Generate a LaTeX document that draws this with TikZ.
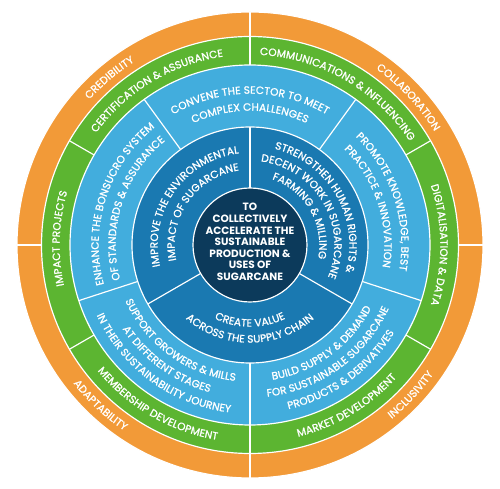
\documentclass[tikz,border=0pt]{standalone}
\usepackage{fontspec}
\setmainfont{Poppins}
\usepackage{tikz}
\definecolor{peel}{HTML}{F29A38}
\definecolor{leaf}{HTML}{5CB531}
\definecolor{sky}{HTML}{42ADDD}
\definecolor{sea}{HTML}{1A79B1}
\definecolor{deep}{HTML}{0C3A5B}
\font\rf="Poppins:embolden=1.2" at 9pt

\makeatletter
\newdimen\bt@pos
\newdimen\bt@track \bt@track=0.1pt
\newif\ifbt@draw
% \bendtext{baseline radius}{centre angle}{1 = clockwise, -1 = counterclockwise}{text}
\newcommand\bendtext[4]{%
  \def\bt@r{#1}\def\bt@c{#2}\def\bt@d{#3}%
  \bt@drawfalse\bt@pos=\z@
  \bt@words#4 \@nil
  \bt@pos=-0.5\bt@pos
  \bt@drawtrue
  \bt@words#4 \@nil}
\def\bt@words#1 #2\@nil{%
  \bt@word{#1}%
  \ifx\relax#2\relax\else
    \advance\bt@pos\fontdimen2\rf
    \bt@words#2\@nil
  \fi}
\def\bt@word#1{%
  \@tfor\bt@ch:=#1\do{%
    \setbox\tw@\hbox{\rf\bt@ch}%
    \ifbt@draw
      \advance\bt@pos.5\wd\tw@
      \pgfmathsetmacro\bt@a{\bt@c-(\bt@d)*deg(\strip@pt\bt@pos/(\bt@r*28.45274))}%
      \pgfmathsetmacro\bt@rot{\bt@a-(\bt@d)*90}%
      \node[letter,rotate=\bt@rot] at (\bt@a:\bt@r) {\bt@ch};
      \advance\bt@pos.5\wd\tw@
    \else
      \advance\bt@pos\wd\tw@
    \fi
    \advance\bt@pos\bt@track}}
\makeatother

\begin{document}
\begin{tikzpicture}[
  ring/.style={draw=white,line width=1pt},
  sep/.style={draw=white,line width=1pt},
  letter/.style={text=white,inner sep=0pt,anchor=base,font=\rf},
  goal/.style={align=center,text=white,font=\fontsize{9}{9.9}\selectfont\bfseries}
]
\useasboundingbox (-7.5,-7.32) rectangle (7.5,7.35);
\path[ring,fill=peel] (0,0) circle (6.99);
\path[ring,fill=leaf] (0,0) circle (6.255);
\path[ring,fill=sky] (0,0) circle (5.40);
\path[ring,fill=sea] (0,0) circle (3.54);
\path[ring,fill=deep] (0,0) circle (1.71);
\foreach \a in {0,90,180,270} \draw[sep] (\a:6.255) -- (\a:6.99);
\foreach \a in {30,90,...,330} \draw[sep] (\a:5.40) -- (\a:6.255);
\foreach \a in {54,126,198,270,342} \draw[sep] (\a:3.54) -- (\a:5.40);
\foreach \a in {90,210,330} \draw[sep] (\a:1.71) -- (\a:3.54);

\node[goal] (aim) at (0,0.09) {TO\\COLLECTIVELY\\ACCELERATE THE\\SUSTAINABLE\\PRODUCTION \&\\USES OF\\SUGARCANE};

\bendtext{6.50}{43}{1}{COLLABORATION}
\bendtext{6.50}{130}{1}{CREDIBILITY}
\bendtext{6.73}{227}{-1}{ADAPTABILITY}
\bendtext{6.73}{317}{-1}{INCLUSIVITY}

\bendtext{5.71}{60}{1}{COMMUNICATIONS \& INFLUENCING}
\bendtext{5.71}{121}{1}{CERTIFICATION \& ASSURANCE}
\bendtext{5.71}{178}{1}{IMPACT PROJECTS}
\bendtext{5.71}{0}{1}{DIGITALISATION \& DATA}
\bendtext{5.93}{240}{-1}{MEMBERSHIP DEVELOPMENT}
\bendtext{5.93}{301}{-1}{MARKET DEVELOPMENT}

\bendtext{4.54}{90}{1}{CONVENE THE SECTOR TO MEET}
\bendtext{4.03}{90}{1}{COMPLEX CHALLENGES}
\bendtext{4.54}{18}{1}{PROMOTE KNOWLEDGE, BEST}
\bendtext{4.03}{18}{1}{PRACTICE \& INNOVATION}
\bendtext{4.54}{162}{1}{ENHANCE THE BONSUCRO SYSTEM}
\bendtext{4.03}{162}{1}{OF STANDARDS \& ASSURANCE}
\bendtext{4.10}{306}{-1}{BUILD SUPPLY \& DEMAND}
\bendtext{4.58}{306}{-1}{FOR SUSTAINABLE SUGARCANE}
\bendtext{5.06}{306}{-1}{PRODUCTS \& DERIVATIVES}
\bendtext{4.10}{234}{-1}{SUPPORT GROWERS \& MILLS}
\bendtext{4.58}{234}{-1}{AT DIFFERENT STAGES}
\bendtext{5.06}{234}{-1}{IN THEIR SUSTAINABILITY JOURNEY}

\bendtext{2.77}{145}{1}{IMPROVE THE ENVIRONMENTAL}
\bendtext{2.26}{145}{1}{IMPACT OF SUGARCANE}
\bendtext{2.98}{30}{1}{STRENGTHEN HUMAN RIGHTS \&}
\bendtext{2.53}{30}{1}{DECENT WORK IN SUGARCANE}
\bendtext{2.08}{30}{1}{FARMING \& MILLING}
\bendtext{2.45}{270}{-1}{CREATE VALUE}
\bendtext{2.93}{270}{-1}{ACROSS THE SUPPLY CHAIN}
\end{tikzpicture}
\end{document}
